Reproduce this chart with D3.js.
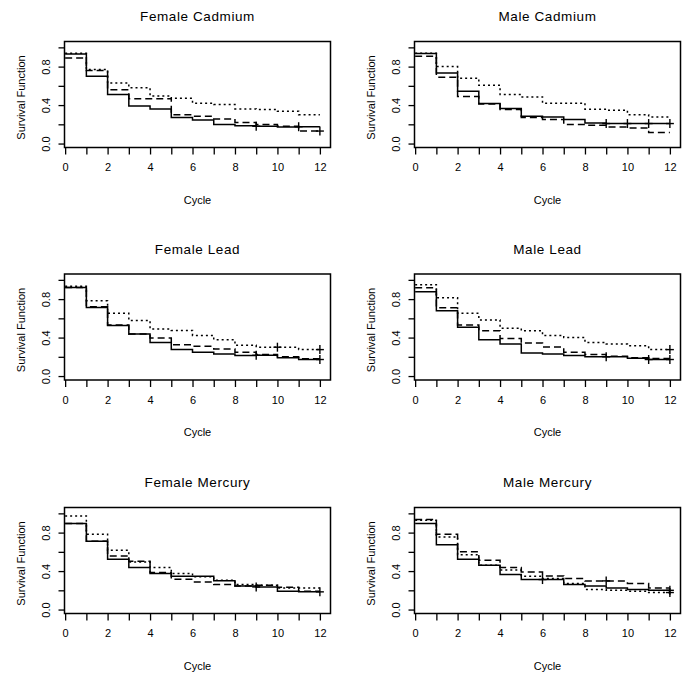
<!DOCTYPE html>
<html>
<head>
<meta charset="utf-8">
<script src="https://cdn.jsdelivr.net/npm/d3@7"></script>
<style>
  body { margin: 0; background: #fff; }
  text { font-family: "Liberation Sans", Arial, sans-serif; fill: #000; }
</style>
</head>
<body>
<script>
var cycles = [0, 1, 2, 3, 4, 5, 6, 7, 8, 9, 10, 11, 12];
var evenLabels = [0, 2, 4, 6, 8, 10, 12];
var yTicks = [0, 0.2, 0.4, 0.6, 0.8, 1.0];
var yLabels = [0, 0.4, 0.8];

var panelTitles = ["Female Cadmium", "Male Cadmium", "Female Lead", "Male Lead", "Female Mercury", "Male Mercury"];

// survival value on each interval [k, k+1), k = 0..11
var solidSurv = [
    [0.93, 0.70, 0.51, 0.39, 0.36, 0.27, 0.245, 0.197, 0.184, 0.18, 0.173, 0.175],
    [0.935, 0.734, 0.544, 0.416, 0.364, 0.284, 0.277, 0.25, 0.215, 0.208, 0.208, 0.208],
    [0.92, 0.714, 0.525, 0.436, 0.35, 0.275, 0.247, 0.23, 0.213, 0.216, 0.19, 0.172],
    [0.876, 0.68, 0.508, 0.378, 0.333, 0.24, 0.23, 0.213, 0.2, 0.2, 0.185, 0.172],
    [0.894, 0.71, 0.523, 0.436, 0.374, 0.346, 0.346, 0.30, 0.246, 0.235, 0.19, 0.184],
    [0.894, 0.675, 0.523, 0.46, 0.364, 0.312, 0.312, 0.26, 0.246, 0.225, 0.208, 0.2]
];
var dashedSurv = [
    [0.89, 0.76, 0.56, 0.465, 0.465, 0.30, 0.284, 0.256, 0.218, 0.197, 0.18, 0.13],
    [0.907, 0.69, 0.49, 0.41, 0.353, 0.27, 0.25, 0.197, 0.19, 0.173, 0.163, 0.114],
    [0.92, 0.72, 0.53, 0.436, 0.395, 0.326, 0.31, 0.28, 0.247, 0.223, 0.2, 0.18],
    [0.917, 0.71, 0.532, 0.47, 0.39, 0.343, 0.302, 0.247, 0.223, 0.206, 0.19, 0.182],
    [0.894, 0.71, 0.557, 0.502, 0.384, 0.315, 0.287, 0.26, 0.246, 0.253, 0.232, 0.19],
    [0.935, 0.783, 0.60, 0.512, 0.436, 0.39, 0.35, 0.322, 0.298, 0.298, 0.27, 0.225]
];
var dottedSurv = [
    [0.94, 0.77, 0.63, 0.58, 0.495, 0.47, 0.42, 0.405, 0.36, 0.355, 0.335, 0.30],
    [0.94, 0.80, 0.68, 0.606, 0.51, 0.485, 0.42, 0.42, 0.357, 0.346, 0.30, 0.277],
    [0.934, 0.783, 0.652, 0.577, 0.488, 0.474, 0.422, 0.378, 0.32, 0.30, 0.30, 0.275],
    [0.95, 0.814, 0.652, 0.584, 0.498, 0.47, 0.422, 0.40, 0.35, 0.333, 0.316, 0.275],
    [0.973, 0.783, 0.616, 0.495, 0.436, 0.374, 0.34, 0.305, 0.26, 0.253, 0.225, 0.225],
    [0.928, 0.755, 0.57, 0.46, 0.41, 0.346, 0.322, 0.27, 0.208, 0.2, 0.19, 0.177]
];

// censoring times shown with "+"
var solidCensor = [[9, 11], [9, 10, 11, 12], [9, 12], [9, 11, 12], [9, 12], [6, 12]];
var dashedCensor = [[12], [], [], [], [], [9]];
var dottedCensor = [[], [], [10, 12], [12], [], [12]];

var width = 694, height = 681;
var boxW = 266, boxH = 106;
var colLeft = [64.5, 414.5];
var rowTop = [41.5, 274, 507.5];

var svg = d3.select("body").append("svg")
    .attr("width", width)
    .attr("height", height);

var styles = [
    { data: solidSurv, censor: solidCensor, dash: null },
    { data: dashedSurv, censor: dashedCensor, dash: "7,4" },
    { data: dottedSurv, censor: dottedCensor, dash: "2,3" }
];

panelTitles.forEach(function(title, i) {
    var left = colLeft[i % 2],
        top = rowTop[Math.floor(i / 2)];

    var x = d3.scaleLinear().domain([-0.03, 12.5]).range([0, boxW]);
    var y = d3.scaleLinear().domain([-0.041, 1.061]).range([boxH, 0]);

    var g = svg.append("g")
        .attr("transform", "translate(" + left + "," + top + ")");

    var xAxis = d3.axisBottom(x)
        .tickValues(cycles)
        .tickSize(7)
        .tickPadding(9)
        .tickFormat(function(d) { return evenLabels.indexOf(d) >= 0 ? d : ""; });

    var gx = g.append("g")
        .attr("transform", "translate(0," + boxH + ")")
        .call(xAxis);
    gx.select(".domain").remove();
    gx.selectAll("line").attr("stroke", "#000").attr("stroke-width", 1.3);
    gx.selectAll("text")
        .style("font-size", "11px")
        .style("font-family", "Liberation Sans, Arial, sans-serif");

    var yAxis = d3.axisLeft(y)
        .tickValues(yTicks)
        .tickSize(6)
        .tickPadding(0)
        .tickFormat(function(d) { return yLabels.indexOf(d) >= 0 ? d.toFixed(1) : ""; });

    var gy = g.append("g").call(yAxis);
    gy.select(".domain").remove();
    gy.selectAll("line").attr("stroke", "#000").attr("stroke-width", 1.3);
    gy.selectAll("text")
        .attr("x", 0)
        .attr("dy", null)
        .attr("text-anchor", "middle")
        .attr("transform", "translate(-19,0) rotate(-90)")
        .attr("y", 0)
        .attr("dominant-baseline", "central")
        .style("font-size", "11px")
        .style("font-family", "Liberation Sans, Arial, sans-serif");

    var line = d3.line()
        .x(function(d) { return x(d[0]); })
        .y(function(d) { return y(d[1]); })
        .curve(d3.curveStepAfter);

    styles.forEach(function(s) {
        var vals = s.data[i];
        var pts = vals.map(function(v, k) { return [cycles[k], v]; });
        pts.push([cycles[12], vals[11]]);

        g.append("path")
            .attr("d", line(pts))
            .attr("fill", "none")
            .attr("stroke", "#000")
            .attr("stroke-width", 1.5)
            .attr("stroke-dasharray", s.dash);

        s.censor[i].forEach(function(t) {
            var v = vals[Math.min(t, 12) === 12 ? 11 : t];
            g.append("line")
                .attr("x1", x(t)).attr("x2", x(t))
                .attr("y1", y(v) - 4.5).attr("y2", y(v) + 4.5)
                .attr("stroke", "#000").attr("stroke-width", 1.4);
            g.append("line")
                .attr("x1", x(t) - 4).attr("x2", x(t) + 4)
                .attr("y1", y(v)).attr("y2", y(v))
                .attr("stroke", "#000").attr("stroke-width", 1.4);
        });
    });

    g.append("rect")
        .attr("width", boxW)
        .attr("height", boxH)
        .attr("fill", "none")
        .attr("stroke", "#000")
        .attr("stroke-width", 1.5);

    g.append("text")
        .attr("x", boxW / 2)
        .attr("y", -25)
        .attr("text-anchor", "middle")
        .attr("dominant-baseline", "central")
        .style("font-size", "13.5px")
        .style("letter-spacing", "0.6px")
        .text(title);

    g.append("text")
        .attr("x", boxW / 2)
        .attr("y", boxH + 52)
        .attr("text-anchor", "middle")
        .attr("dominant-baseline", "central")
        .style("font-size", "11px")
        .text("Cycle");

    g.append("text")
        .attr("transform", "translate(-44," + (boxH / 2 + 3) + ") rotate(-90)")
        .attr("text-anchor", "middle")
        .attr("dominant-baseline", "central")
        .style("font-size", "11px")
        .text("Survival Function");
});
</script>
</body>
</html>
